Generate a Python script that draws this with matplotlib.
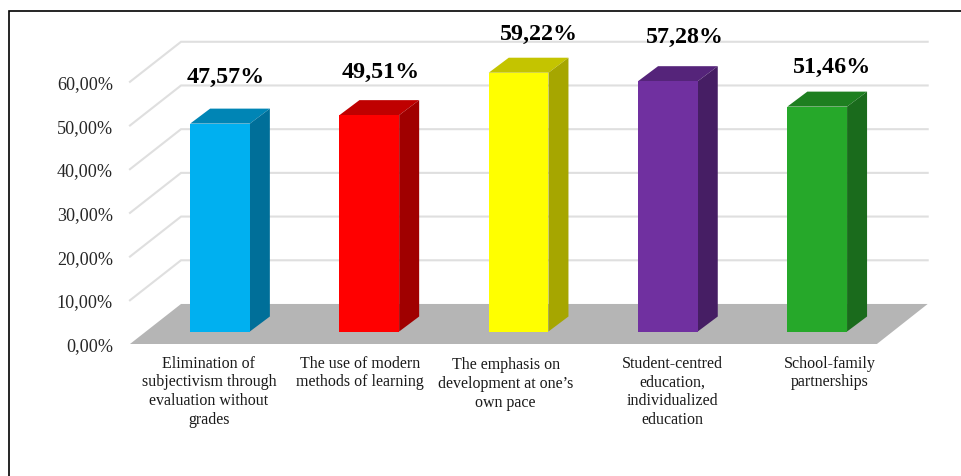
import matplotlib
matplotlib.use("Agg")
from matplotlib import pyplot as plt
from matplotlib.patches import Polygon
from matplotlib.lines import Line2D

categories = [
    "Elimination of\nsubjectivism through\nevaluation without\ngrades",
    "The use of modern\nmethods of learning",
    "The emphasis on\ndevelopment at one\u2019s\nown pace",
    "Student-centred\neducation,\nindividualized\neducation",
    "School-family\npartnerships",
]
values = [47.57, 49.51, 59.22, 57.28, 51.46]
ticks = [0, 10, 20, 30, 40, 50, 60]

front_colors = ["#00B0F0", "#FF0000", "#FFFF00", "#7030A0", "#26A82A"]
top_colors = ["#0085B5", "#BF0000", "#C4C400", "#55247A", "#1E7F20"]
side_colors = ["#006F99", "#A00000", "#A6A600", "#461E64", "#1A6B1C"]

# hand placed labels in the original, offsets from the bar front
value_label_dx = [0.04, 0.074, 0.134, 0.114, 0.10]
value_label_dy = [10.9, 10.06, 9.05, 10.3, 9.2]
cat_label_dx = [-0.074, -0.06, -0.087, 0.033, 0.087]
cat_label_y = [-5.3, -5.3, -5.7, -5.3, -5.3]

# scale of the chart in pixels
px_per_cat = 149.3
px_per_pct = 4.37
x0_px = 220
y0_px = 332.5

# oblique depth of bars and floor
bar_w = 0.40
bar_dx = 20 / px_per_cat
bar_dy = 15 / px_per_pct
floor_front = -2.86
floor_back = 6.3
left_front = -0.603
left_back = -0.261
right_front = 4.40
right_back = 4.74

plt.rcParams["font.family"] = ["Liberation Serif", "DejaVu Serif"]

fig = plt.figure(figsize=(9.61, 4.77), dpi=100)
ax = fig.add_axes([0, 0, 1, 1])
ax.set_xlim(-x0_px / px_per_cat, (961 - x0_px) / px_per_cat)
ax.set_ylim(-(477 - y0_px) / px_per_pct, y0_px / px_per_pct)
ax.axis("off")

# Gridlines on back and left walls
for t in ticks[1:]:
    ax.plot([left_front, left_back, right_back], [t + floor_front, t + floor_back, t + floor_back],
            color="#DFDFDF", lw=1.5, zorder=1, solid_joinstyle="miter")

# Floor
ax.add_patch(Polygon([(left_front, floor_front), (right_front, floor_front),
                      (right_back, floor_back), (left_back, floor_back)],
                     facecolor="#B5B5B5", edgecolor="none", zorder=2))

# Bars: front face with bar(), top and side as polygons
for i, v in enumerate(values):
    l = i - bar_w / 2
    r = i + bar_w / 2
    ax.bar(i, v, width=bar_w, color=front_colors[i], linewidth=0, zorder=4)
    ax.add_patch(Polygon([(l, v), (r, v), (r + bar_dx, v + bar_dy), (l + bar_dx, v + bar_dy)],
                         facecolor=top_colors[i], edgecolor="none", zorder=3))
    ax.add_patch(Polygon([(r, 0), (r + bar_dx, bar_dy), (r + bar_dx, v + bar_dy), (r, v)],
                         facecolor=side_colors[i], edgecolor="none", zorder=3))
    ax.text(i + value_label_dx[i], v + value_label_dy[i], f"{v:.2f}%".replace(".", ","),
            ha="center", va="center", fontsize=17.3, fontweight="bold", color="black", zorder=6)
    ax.text(i + cat_label_dx[i], cat_label_y[i], categories[i], ha="center", va="top",
            fontsize=11.5, color="#1A1A1A", linespacing=1.23, zorder=6)

# Tick labels
for t in ticks:
    ax.text(-0.717, t + floor_front - 0.4, f"{t:.2f}%".replace(".", ","), ha="right", va="center",
            fontsize=13.1, color="#262626", zorder=6)

# Frame is only drawn on top and left
fig.add_artist(Line2D([8.5 / 961, 8.5 / 961, 1], [0, 1 - 11.5 / 477, 1 - 11.5 / 477],
                      color="black", lw=1.2, solid_joinstyle="miter"))

fig.savefig("out.png", dpi=100)
